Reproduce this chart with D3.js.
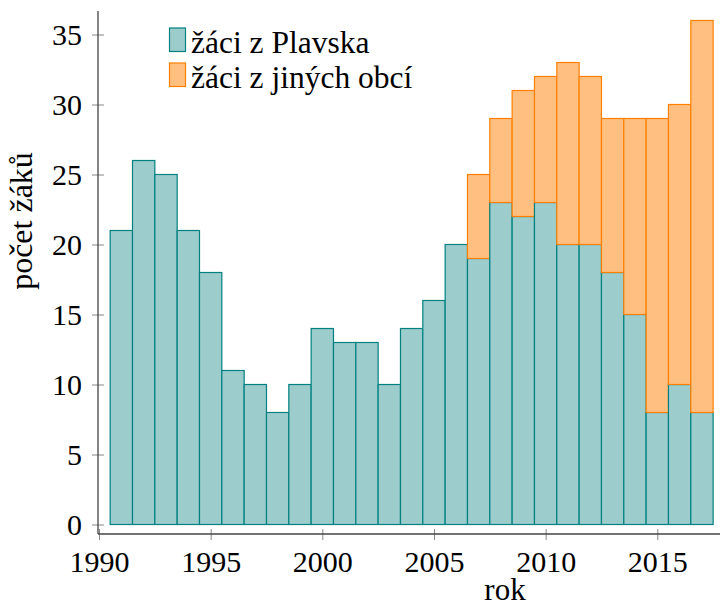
<!DOCTYPE html>
<html>
<head>
<meta charset="utf-8">
<script src="https://cdn.jsdelivr.net/npm/d3@7/dist/d3.min.js"></script>
<style>
  body { margin: 0; background: #fff; }
</style>
</head>
<body>
<svg id="chart" width="720" height="609"></svg>
<script>
// data
var years = [1991, 1992, 1993, 1994, 1995, 1996, 1997, 1998, 1999, 2000,
             2001, 2002, 2003, 2004, 2005, 2006, 2007, 2008, 2009, 2010,
             2011, 2012, 2013, 2014, 2015, 2016, 2017];
var plavsko = [21, 26, 25, 21, 18, 11, 10, 8, 10, 14,
               13, 13, 10, 14, 16, 20, 19, 23, 22, 23,
               20, 20, 18, 15, 8, 10, 8];
var jine = [0, 0, 0, 0, 0, 0, 0, 0, 0, 0,
            0, 0, 0, 0, 0, 0, 6, 6, 9, 9,
            13, 12, 11, 14, 21, 20, 28];
var seriesNames = ["žáci z Plavska", "žáci z jiných obcí"];
var xTicks = [1990, 1995, 2000, 2005, 2010, 2015];
var yTicks = [0, 5, 10, 15, 20, 25, 30, 35];

var fills = ["#9ccccc", "#ffbf80"];
var strokes = ["#008080", "#ff8000"];
var font = "Liberation Serif";

var svg = d3.select("#chart");

var x = d3.scaleLinear()
  .domain([1990, 2015])
  .range([99, 657.3]);

var y = d3.scaleLinear()
  .domain([0, 35])
  .range([524.5, 34.5]);

var axisY0 = 534;   // x axis line sits a bit below zero
var axisX0 = 98;

// bars, one year wide, centred on the year
var g = svg.append("g");
years.forEach(function(yr, i)
{
  var x0 = x(yr - 0.5), x1 = x(yr + 0.5);
  g.append("rect")
    .attr("x", x0)
    .attr("y", y(plavsko[i]))
    .attr("width", x1 - x0)
    .attr("height", y(0) - y(plavsko[i]))
    .attr("fill", fills[0])
    .attr("stroke", strokes[0])
    .attr("stroke-width", 1.2);
  if (jine[i] > 0)
  {
    g.append("rect")
      .attr("x", x0)
      .attr("y", y(plavsko[i] + jine[i]))
      .attr("width", x1 - x0)
      .attr("height", y(plavsko[i]) - y(plavsko[i] + jine[i]))
      .attr("fill", fills[1])
      .attr("stroke", strokes[1])
      .attr("stroke-width", 1.2);
  }
});

// axes
var xAxis = svg.append("g")
  .attr("transform", "translate(0," + axisY0 + ")")
  .call(d3.axisBottom(x).tickValues(xTicks).tickFormat(d3.format("d")).tickSize(0).tickPadding(17));
xAxis.select(".domain").remove();
xAxis.selectAll(".tick line").attr("y1", -5).attr("y2", 6).attr("stroke", "#888");
xAxis.selectAll(".tick text").attr("font-family", font).attr("font-size", 30);

var yAxis = svg.append("g")
  .attr("transform", "translate(" + axisX0 + ",0)")
  .call(d3.axisLeft(y).tickValues(yTicks).tickSize(0).tickPadding(16));
yAxis.select(".domain").remove();
yAxis.selectAll(".tick line").attr("x1", -6).attr("x2", 6).attr("stroke", "#888");
yAxis.selectAll(".tick text").attr("font-family", font).attr("font-size", 30);

svg.append("line")
  .attr("x1", axisX0).attr("x2", 720)
  .attr("y1", axisY0).attr("y2", axisY0)
  .attr("stroke", "#444").attr("stroke-width", 1.3);
svg.append("line")
  .attr("x1", axisX0).attr("x2", axisX0)
  .attr("y1", 11).attr("y2", axisY0)
  .attr("stroke", "#444").attr("stroke-width", 1.3);

// axis labels
svg.append("text")
  .attr("x", 505).attr("y", 600)
  .attr("text-anchor", "middle")
  .attr("font-family", font)
  .attr("font-size", 31)
  .text("rok");

svg.append("text")
  .attr("transform", "translate(32,221) rotate(-90)")
  .attr("text-anchor", "middle")
  .attr("font-family", font)
  .attr("font-size", 32)
  .text("počet žáků");

// legend
var legend = svg.append("g");
seriesNames.forEach(function(name, i)
{
  var top = 28 + i * 35;
  legend.append("rect")
    .attr("x", 169.5).attr("y", top)
    .attr("width", 16).attr("height", 23.5)
    .attr("fill", fills[i])
    .attr("stroke", strokes[i])
    .attr("stroke-width", 1.2);
  legend.append("text")
    .attr("x", 191).attr("y", top + 24.5)
    .attr("font-family", font)
    .attr("font-size", 31.5)
    .text(name);
});
</script>
</body>
</html>
